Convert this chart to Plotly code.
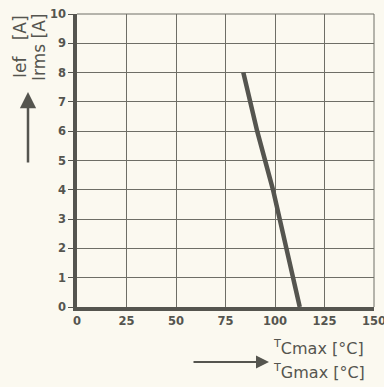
import plotly.graph_objects as go

# Data
curve_t = [84, 91, 99, 106, 112.5]
curve_i = [8, 6, 4, 2, 0]

x_ticks = [0, 25, 50, 75, 100, 125, 150]
y_ticks = [0, 1, 2, 3, 4, 5, 6, 7, 8, 9, 10]

W, H = 384, 387
L, R, T, B = 77, 10, 14, 80
PW, PH = W - L - R, H - T - B

def px(xp):  # screen pixel -> paper
    return (xp - L) / PW

def py(yp):
    return (H - B - yp) / PH

ink = "#55554f"
grid = "#6e6e66"
bg = "#fbf9f0"
font = "DejaVu Sans"

fig = go.Figure()
fig.add_trace(go.Scatter(x=curve_t, y=curve_i, mode="lines",
                         line=dict(color=ink, width=4.5), hoverinfo="skip",
                         showlegend=False))

tf = dict(size=11.5, family=font, color=ink, weight="bold")
fig.update_layout(
    width=W, height=H,
    margin=dict(l=L, r=R, t=T, b=B, autoexpand=False),
    paper_bgcolor=bg, plot_bgcolor=bg,
    font=dict(family=font, color=ink, size=13),
    xaxis=dict(range=[0, 150], tickvals=x_ticks, ticktext=[str(v) for v in x_ticks],
               showgrid=True, gridcolor=grid, gridwidth=1, zeroline=False,
               showline=True, linecolor=ink, linewidth=3.5, automargin=False,
               ticks="", tickfont=tf, ticklabeloverflow="allow"),
    yaxis=dict(range=[0, 10], tickvals=y_ticks, ticktext=[str(v) for v in y_ticks],
               showgrid=True, gridcolor=grid, gridwidth=1, zeroline=False,
               showline=True, linecolor=ink, linewidth=3.5, automargin=False,
               ticks="outside", ticklen=5, tickcolor=ink, tickwidth=1,
               tickfont=tf, ticklabeloverflow="allow"),
)

# thin frame top and right
fig.add_shape(type="line", xref="paper", yref="paper", x0=0, x1=1, y0=1, y1=1,
              line=dict(color=grid, width=1))
fig.add_shape(type="line", xref="paper", yref="paper", x0=1, x1=1, y0=0, y1=1,
              line=dict(color=grid, width=1))

tt = dict(size=17, family=font, color=ink)
# y-axis titles (rotated)
fig.add_annotation(xref="paper", yref="paper", x=px(20), y=py(47),
                   xanchor="center", yanchor="middle",
                   text="Ief&nbsp;&nbsp; [A]", textangle=-90, showarrow=False,
                   font=tt)
fig.add_annotation(xref="paper", yref="paper", x=px(39), y=py(48),
                   xanchor="center", yanchor="middle",
                   text="Irms [A]", textangle=-90, showarrow=False,
                   font=tt)
# up arrow
fig.add_annotation(xref="paper", yref="paper", x=px(28), y=py(92),
                   axref="pixel", ayref="pixel", ax=0, ay=72,
                   text="", showarrow=True, arrowhead=2, arrowsize=1.3,
                   arrowwidth=2.5, arrowcolor=ink)
# right arrow
fig.add_annotation(xref="paper", yref="paper", x=px(269), y=py(362),
                   axref="pixel", ayref="pixel", ax=-77, ay=0,
                   text="", showarrow=True, arrowhead=2, arrowsize=1.3,
                   arrowwidth=2, arrowcolor=ink)
# x-axis titles
xt = dict(size=16, family=font, color=ink)
fig.add_annotation(xref="paper", yref="paper", x=px(271), y=py(347),
                   xanchor="left", yanchor="middle",
                   text="<sup>T</sup>Cmax [°C]", showarrow=False, font=xt)
fig.add_annotation(xref="paper", yref="paper", x=px(271), y=py(371),
                   xanchor="left", yanchor="middle",
                   text="<sup>T</sup>Gmax [°C]", showarrow=False, font=xt)

fig.write_html("out.html", config={"displayModeBar": False},
               post_script="document.body.style.margin='0';"
                           "document.body.style.overflow='hidden';"
                           "document.body.style.background='" + bg + "';")
